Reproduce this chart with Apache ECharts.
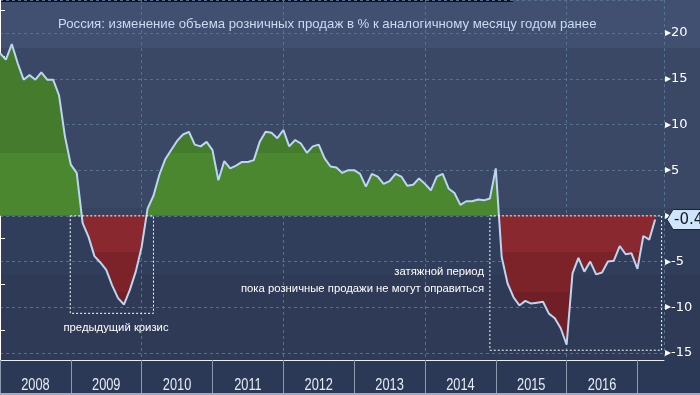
<!DOCTYPE html>
<html><head><meta charset="utf-8">
<script src="https://cdn.jsdelivr.net/npm/echarts/dist/echarts.min.js"></script>
<style>html,body{margin:0;padding:0;background:#2c3956;}#c{width:700px;height:395px;}</style>
</head><body><div id="c"></div>
<script>
// ---- data ----
const titleText = 'Россия: изменение объема розничных продаж в % к аналогичному месяцу годом ранее';
const firstMonth = '2008-01';
const retailYoY = [
  17.8, 17.1, 18.8, 16.7, 14.9, 15.4, 14.9, 15.7, 14.9, 14.9, 13.2, 8.7,
  5.6, 4.7, -0.8, -2.3, -4.4, -5.1, -5.9, -7.6, -9.0, -9.7, -8.1, -6.1,
  -3.4, 0.8, 2.2, 4.5, 6.2, 7.2, 8.2, 8.9, 9.2, 7.8, 7.6, 8.1,
  7.2, 3.9, 6.0, 5.2, 5.5, 5.9, 5.9, 6.1, 8.1, 9.2, 9.1, 8.5,
  9.4, 7.6, 8.3, 7.9, 6.9, 7.6, 7.8, 6.3, 5.4, 5.3, 4.7, 5.0,
  5.0, 4.6, 3.2, 4.6, 4.3, 3.5, 3.8, 4.6, 4.3, 3.3, 3.4, 4.1,
  3.5, 2.8, 4.3, 4.6, 3.0, 2.5, 1.2, 1.6, 1.6, 1.8, 1.7, 1.9,
  5.2, -4.5, -7.4, -8.9, -9.8, -9.3, -9.6, -9.5, -9.4, -10.7, -11.2, -12.3,
  -14.1, -6.3, -4.6, -6.1, -5.0, -6.4, -6.2, -5.0, -4.9, -3.3, -4.2, -4.1,
  -5.8, -2.2, -2.6, -0.4
];
const yearLabels = ['2008','2009','2010','2011','2012','2013','2014','2015','2016'];
const annotPrev = 'предыдущий кризис';
const annotLong1 = 'затяжной период';
const annotLong2 = 'пока розничные продажи не могут оправиться';

// ---- chart ----
const chart = echarts.init(document.getElementById('c'), null, {renderer:'canvas'});
const seriesData = retailYoY.map((v, i) => [i, v]);
const fillGrad = new echarts.graphic.LinearGradient(0, 0, 0, 360, [
  {offset:0, color:'#447b2d'}, {offset:0.425, color:'#447b2d'},
  {offset:0.425, color:'#4a872f'}, {offset:0.6, color:'#4a872f'},
  {offset:0.6, color:'#8a2830'}, {offset:0.7, color:'#8a2830'},
  {offset:0.7, color:'#7c2329'}, {offset:0.81, color:'#7c2329'},
  {offset:0.81, color:'#711f27'}, {offset:1, color:'#711f27'}
], true);
const bgGrad = new echarts.graphic.LinearGradient(0, 0, 0, 360, [
  {offset:0, color:'#415070'}, {offset:0.133, color:'#415070'},
  {offset:0.133, color:'#3a4866'}, {offset:0.578, color:'#3a4866'},
  {offset:0.578, color:'#36445f'}, {offset:0.6, color:'#36445f'},
  {offset:0.6, color:'#313e5b'}, {offset:0.764, color:'#313e5b'},
  {offset:0.764, color:'#2e3a56'}, {offset:1, color:'#2e3a56'}
], true);
const gridLine = {show:true, lineStyle:{color:'#56708f', type:[3,3], width:1}};

chart.setOption({
  animation:false,
  backgroundColor:'#2c3956',
  title:{text:titleText, left:53, top:13,
    textStyle:{color:'#c9dbf3', fontSize:13.2, fontWeight:'normal', fontFamily:'Liberation Sans'}},
  grid:[{left:0, top:0, width:664, height:360},
        {left:0, top:359, width:637.5, height:1}],
  xAxis:[
    {gridIndex:0, type:'value', min:0, max:112.5, interval:24,
     axisLine:{show:true, onZero:false, lineStyle:{color:'#e8eef6', width:1}},
     axisTick:{show:false}, axisLabel:{show:false}, splitLine:gridLine},
    {gridIndex:1, type:'category', data:yearLabels, boundaryGap:true,
     axisLine:{show:false},
     axisTick:{show:true, length:35, lineStyle:{color:'#8d99ad', width:1}},
     axisLabel:{show:false},
     splitLine:{show:false}}
  ],
  yAxis:[
    {gridIndex:0, type:'value', position:'right', min:-15.77, max:23.62, splitNumber:8,
     axisLine:{show:true, lineStyle:{color:'#ffffff', width:1}},
     axisTick:{show:false},
     minorTick:{show:true, splitNumber:2, length:5, lineStyle:{color:'#ffffff'}},
     axisLabel:{show:true, margin:1, showMinLabel:false, showMaxLabel:false,
       color:'#ffffff', fontSize:13, fontFamily:'DejaVu Sans',
       formatter:v => '{t|\u25B8}' + v,
       rich:{t:{fontSize:12, color:'#ffffff', fontFamily:'DejaVu Sans'}}},
     splitLine:gridLine},
    {gridIndex:1, type:'value', show:false}
  ],
  series:[{
    type:'line', xAxisIndex:0, yAxisIndex:0, data:seriesData,
    symbol:'none', z:3,
    lineStyle:{color:'#bcd6f2', width:2},
    areaStyle:{color:fillGrad, opacity:1, origin:0},
    markArea:{silent:true, z:5,
      itemStyle:{color:'rgba(0,0,0,0)', borderColor:'#ffffff', borderWidth:1, borderType:[2,2]},
      data:[[{coord:[11.9,0]},{coord:[26,-10.66]}],
            [{coord:[83,0]},{coord:[112.1,-14.7]}]]}
  }]
});

const last = retailYoY[retailYoY.length - 1];
const yLast = chart.convertToPixel({yAxisIndex:0}, last);
const yearTexts = yearLabels.map(y => {
  const cx = chart.convertToPixel({xAxisIndex:1}, y);
  return {type:'text', z:10, silent:true, x:cx, y:386, scaleX:0.8, scaleY:1,
    style:{text:y, x:0, y:0, fill:'#e6ecf5', font:'16px "Liberation Sans"',
      textAlign:'center', textVerticalAlign:'middle'}};
});
const annFont = '11.3px "Liberation Sans"';
chart.setOption({graphic:[
  {type:'rect', z:-100, silent:true, shape:{x:0, y:0, width:700, height:360}, style:{fill:bgGrad}},
  {type:'rect', z:-99, silent:true, shape:{x:0, y:0, width:513, height:2}, style:{fill:'#0c0f16'}},
  {type:'rect', z:10, silent:true, shape:{x:0, y:393, width:700, height:2}, style:{fill:'#a3abb8'}},
  {type:'text', z:10, silent:true, style:{text:annotPrev, x:116, y:328, fill:'#ffffff',
    font:annFont, textAlign:'center', textVerticalAlign:'middle'}},
  {type:'text', z:10, silent:true, style:{text:annotLong1, x:484, y:272, fill:'#ffffff',
    font:annFont, textAlign:'right', textVerticalAlign:'middle'}},
  {type:'text', z:10, silent:true, style:{text:annotLong2, x:484, y:289, fill:'#ffffff',
    font:annFont, textAlign:'right', textVerticalAlign:'middle'}},
  {type:'polygon', z:20, silent:true,
    shape:{points:[[667,yLast],[673,yLast-10],[703,yLast-10],[703,yLast+10],[673,yLast+10]]},
    style:{fill:'#cfe5fb', stroke:'#1b2333', lineWidth:1}},
  {type:'text', z:21, silent:true, style:{text:String(last), x:674, y:yLast+0.5, fill:'#111827',
    font:'15px "DejaVu Sans"', textAlign:'left', textVerticalAlign:'middle'}}
].concat(yearTexts)});
</script></body></html>
